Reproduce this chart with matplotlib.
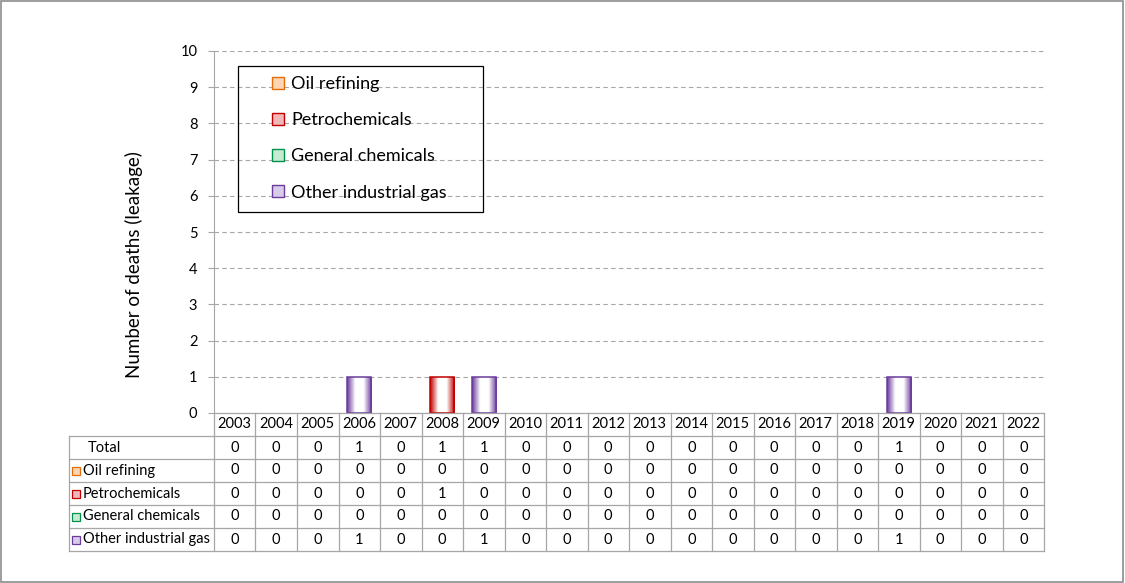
#!/usr/bin/env python3
import matplotlib
matplotlib.use('Agg')
import matplotlib.pyplot as plt
import numpy as np
from matplotlib.colors import LinearSegmentedColormap
from matplotlib.patches import Rectangle, Patch
from matplotlib.transforms import blended_transform_factory

years = [2003, 2004, 2005, 2006, 2007, 2008, 2009, 2010, 2011, 2012,
         2013, 2014, 2015, 2016, 2017, 2018, 2019, 2020, 2021, 2022]
oil_refining = [0, 0, 0, 0, 0, 0, 0, 0, 0, 0, 0, 0, 0, 0, 0, 0, 0, 0, 0, 0]
petrochemicals = [0, 0, 0, 0, 0, 1, 0, 0, 0, 0, 0, 0, 0, 0, 0, 0, 0, 0, 0, 0]
general_chemicals = [0, 0, 0, 0, 0, 0, 0, 0, 0, 0, 0, 0, 0, 0, 0, 0, 0, 0, 0, 0]
other_gas = [0, 0, 0, 1, 0, 0, 1, 0, 0, 0, 0, 0, 0, 0, 0, 0, 1, 0, 0, 0]

series_names = ['Oil refining', 'Petrochemicals', 'General chemicals', 'Other industrial gas']
series_values = [oil_refining, petrochemicals, general_chemicals, other_gas]
series_colors = ['#E36C09', '#C00000', '#00924A', '#6A3C9C']
light_colors = ['#FCD5B4', '#F2B8B8', '#C6EBD2', '#D9CCEA']

plt.rcParams['font.family'] = ['Lato', 'DejaVu Sans']

W, H = 1125, 583
fig = plt.figure(figsize=(W / 100, H / 100), dpi=100)


def fx(px):
    return px / W


def fy(py):
    return 1 - py / H


ax = fig.add_axes([fx(214), fy(413), fx(1044) - fx(214), fy(51) - fy(413)])

x = np.arange(len(years))
bottom = np.zeros(len(years))
for name, vals, col in zip(series_names, series_values, series_colors):
    bars = ax.bar(x, vals, 0.58, bottom=bottom, facecolor='none',
                  edgecolor=col, linewidth=1.1, zorder=3)
    cmap = LinearSegmentedColormap.from_list(name, [col, '#FFFFFF', '#FFFFFF', col])
    grad = np.linspace(0, 1, 64).reshape(1, -1)
    for b, v in zip(bars, vals):
        if v == 0:
            b.set_visible(False)
            continue
        bx, by = b.get_x(), b.get_y()
        im = ax.imshow(grad, cmap=cmap, aspect='auto', zorder=2,
                       extent=(bx, bx + b.get_width(), by, by + b.get_height()))
        im.set_clip_path(b)
    bottom += np.array(vals)

ax.set_xlim(-0.5, len(years) - 0.5)
ax.set_ylim(0, 10)
ax.set_yticks(range(0, 11))
ax.set_xticks([])
ax.yaxis.grid(True, linestyle=(0, (4, 3)), color='#A6A6A6', linewidth=0.8)
ax.set_axisbelow(True)
for s in ['top', 'right', 'bottom']:
    ax.spines[s].set_visible(False)
ax.spines['left'].set_color('#A6A6A6')
ax.tick_params(axis='y', colors='#A6A6A6', labelcolor='black', labelsize=10.5,
               length=4, pad=8)
ax.set_ylabel('Number of deaths (leakage)', fontsize=13.5)
ax.yaxis.set_label_coords(-0.086, 0.41)

# legend
handles = [Patch(facecolor=lc, edgecolor=c, linewidth=1.0)
           for lc, c in zip(light_colors, series_colors)]
ax.add_artist(Rectangle((fx(238), fy(212)), fx(483) - fx(238), fy(66) - fy(212),
                        transform=fig.transFigure, fill=False, edgecolor='black',
                        linewidth=0.9, zorder=5))
fig.legend(handles, series_names, loc='upper left',
           bbox_to_anchor=(fx(272), fy(76)), frameon=False, fontsize=13,
           handlelength=0.65, handleheight=0.65, handletextpad=0.4,
           labelspacing=1.12, borderpad=0, borderaxespad=0)

# data table
tr = blended_transform_factory(ax.transData, fig.transFigure)
grid_col = '#A6A6A6'
row_edges = [413, 436, 459, 482, 505, 528, 551]
for i, py in enumerate(row_edges):
    x0 = fx(214) if i == 0 else fx(69)
    fig.add_artist(plt.Line2D([x0, fx(1044)], [fy(py), fy(py)],
                              color=grid_col, linewidth=0.9))
for i in range(len(years) + 1):
    fig.add_artist(plt.Line2D([i - 0.5, i - 0.5], [fy(413), fy(551)],
                              transform=tr, color=grid_col, linewidth=0.9))
fig.add_artist(plt.Line2D([fx(69), fx(69)], [fy(436), fy(551)],
                          color=grid_col, linewidth=0.9))

totals = [sum(v) for v in zip(*series_values)]
rows = [('Total', totals, None)] + [
    (n, v, (lc, c)) for n, v, lc, c in zip(series_names, series_values,
                                           light_colors, series_colors)]

for xi, yr in enumerate(years):
    fig.text(xi, fy(424.5), str(yr), transform=tr, ha='center', va='center',
             fontsize=10.5)

for r, (name, vals, cols) in enumerate(rows):
    cy = fy((row_edges[r + 1] + row_edges[r + 2]) / 2)
    if cols is None:
        fig.text(fx(88), cy, name, ha='left', va='center', fontsize=10.5)
    else:
        fig.add_artist(Rectangle((fx(72), cy - 4 / H), 8 / W, 8 / H,
                                 transform=fig.transFigure, facecolor=cols[0],
                                 edgecolor=cols[1], linewidth=0.9))
        fig.text(fx(83), cy, name, ha='left', va='center', fontsize=10.5)
    for xi, v in enumerate(vals):
        fig.text(xi, cy, str(v), transform=tr, ha='center', va='center',
                 fontsize=10.5)

# outer frame
fig.add_artist(Rectangle((0.0005, 0.001), 0.998, 0.997, transform=fig.transFigure,
                         fill=False, edgecolor='#8C8C8C', linewidth=1.2))

fig.savefig('out.png', dpi=100)
